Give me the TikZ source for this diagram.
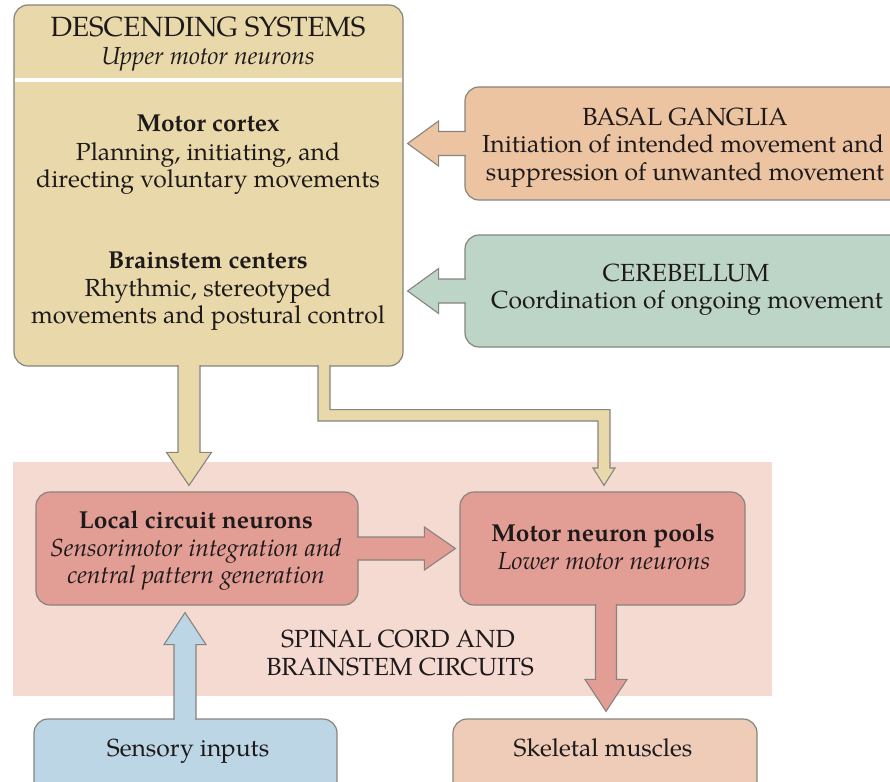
\documentclass[tikz,border=0pt]{standalone}
\usepackage{fontspec}
\setmainfont{TeX Gyre Pagella}
\usetikzlibrary{calc}
\definecolor{desccol}{HTML}{E9D9AA}
\definecolor{basalcol}{HTML}{EDC4A1}
\definecolor{cerebcol}{HTML}{BDD5C6}
\definecolor{spinalcol}{HTML}{F5DAD2}
\definecolor{neurcol}{HTML}{E29D94}
\definecolor{senscol}{HTML}{BCD6E5}
\definecolor{skelcol}{HTML}{EECCB8}
\definecolor{edgecol}{HTML}{86847E}
\definecolor{inkcol}{HTML}{1E1A1B}
\newcommand{\fatarrow}[6]{%
  \coordinate (fabase) at ($(#2)!#5!(#1)$);
  \filldraw[#6] ($(#1)!#3!90:(#2)$) -- ($(fabase)!#3!90:(#2)$) -- ($(fabase)!#4!90:(#2)$)
    -- (#2) -- ($(fabase)!#4!-90:(#2)$) -- ($(fabase)!#3!-90:(#2)$) -- ($(#1)!#3!-90:(#2)$);}
\tikzset{
  box/.style={draw=edgecol, line width=1.2pt, rounded corners=14pt, inner sep=0pt},
  txt/.style={anchor=base, inner sep=0pt, text=inkcol, font=\fontsize{24.7}{30}\selectfont},
  txth/.style={txt, font=\fontsize{27.8}{30}\selectfont},
  txtb/.style={txt, font=\fontsize{24.5}{30}\selectfont\bfseries},
  txti/.style={txt, font=\fontsize{24.7}{30}\selectfont\itshape},
  txtc/.style={txt, font=\fontsize{24.8}{30}\selectfont},
  fat/.style={draw=edgecol, line width=1.1pt, line join=miter}
}
\begin{document}
\begin{tikzpicture}[x=1pt,y=-1pt]
\useasboundingbox (0,0) rectangle (890,781);
% background region
\node[fill=spinalcol, minimum width=759pt, minimum height=234pt, inner sep=0pt] (spinal) at (392.5,579) {};
% boxes
\node[box, fill=desccol, minimum width=389pt, minimum height=361pt] (desc) at (208.5,185.5) {};
\draw[white, line width=4pt] (15,80) -- (402,80);
\node[box, fill=basalcol, minimum width=440pt, minimum height=113pt] (basal) at (685,143.5) {};
\node[box, fill=cerebcol, minimum width=440pt, minimum height=112pt] (cereb) at (685,291) {};
\node[box, fill=neurcol, minimum width=322pt, minimum height=113pt] (local) at (197,548.5) {};
\node[box, fill=neurcol, minimum width=285pt, minimum height=113pt] (pools) at (602.5,548.5) {};
\node[box, fill=senscol, minimum width=303pt, minimum height=81pt] (sensory) at (185.5,759.5) {};
\node[box, fill=skelcol, minimum width=304pt, minimum height=81pt] (skeletal) at (605,759.5) {};
% arrow end points
\coordinate (a1s) at ($(basal.west)+(1.5,0)$);
\coordinate (a1t) at ($(desc.east |- basal.west)+(4,0)$);
\coordinate (a2s) at ($(cereb.west)+(1.5,0)$);
\coordinate (a2t) at ($(desc.east |- cereb.west)+(4,0)$);
\coordinate (a3s) at ($(189,0 |- desc.south)+(0,-1.5)$);
\coordinate (a3t) at ($(189,0 |- local.north)+(0,-6)$);
\coordinate (a4s) at ($(local.east)+(-1.5,0)$);
\coordinate (a4t) at ($(pools.west)+(-4,0)$);
\coordinate (a5s) at ($(185,0 |- sensory.north)+(0,1.5)$);
\coordinate (a5t) at ($(185,0 |- local.south)+(0,7)$);
\coordinate (a6s) at ($(606,0 |- pools.south)+(0,-1.5)$);
\coordinate (a6t) at ($(606,0 |- skeletal.north)+(0,-7)$);
% arrows
\fatarrow{a1s}{a1t}{12pt}{22.5pt}{31pt}{fat, fill=basalcol}
\fatarrow{a2s}{a2t}{12pt}{22.5pt}{31pt}{fat, fill=cerebcol}
\fatarrow{a3s}{a3t}{11pt}{22.5pt}{33pt}{fat, fill=desccol}
\fatarrow{a4s}{a4t}{11.5pt}{21.5pt}{31pt}{fat, fill=neurcol}
\fatarrow{a5s}{a5t}{11pt}{21pt}{32pt}{fat, fill=senscol}
\fatarrow{a6s}{a6t}{10.5pt}{21pt}{32pt}{fat, fill=neurcol}
\coordinate (bs) at (324,0 |- desc.south);
\coordinate (bt) at ($(604,0 |- pools.north)+(0,-6)$);
\filldraw[fat, fill=desccol] ($(bs)+(-6,-1.5)$) |- (598,421) -- (598,468) -- (593,468) -- (bt)
  -- (615,468) -- (610,468) |- ($(bs)+(6,43)$) -- ($(bs)+(6,-1.5)$);
% texts
\node[txth] (t1) at (208,36.5) {DESCENDING SYSTEMS};
\node[txti] (t2) at (208,65) {Upper motor neurons};
\node[txtb] (t3) at (208,131.5) {Motor cortex};
\node[txt] (t4) at (208,160.5) {Planning, initiating, and};
\node[txt] (t5) at (208,187) {directing voluntary movements};
\node[txtb] (t6) at (208,268) {Brainstem centers};
\node[txt] (t7) at (208,296.5) {Rhythmic, stereotyped};
\node[txt] (t8) at (208,323) {movements and postural control};
\node[txtc] (t9) at (685,125) {BASAL GANGLIA};
\node[txt] (t10) at (683,152.5) {Initiation of intended movement and};
\node[txt] (t11) at (685,180) {suppression of unwanted movement};
\node[txtc] (t12) at (686,281.5) {CEREBELLUM};
\node[txt] (t13) at (687,308) {Coordination of ongoing movement};
\node[txtb] (t14) at (196,528) {Local circuit neurons};
\node[txti] (t15) at (196,556) {Sensorimotor integration and};
\node[txti] (t16) at (196,583) {central pattern generation};
\node[txtb] (t17) at (603,541.5) {Motor neuron pools};
\node[txti] (t18) at (604,569) {Lower motor neurons};
\node[txtc] (t19) at (398,647) {SPINAL CORD AND};
\node[txtc] (t20) at (400,675) {BRAINSTEM CIRCUITS};
\node[txt] (t21) at (188,756.5) {Sensory inputs};
\node[txt] (t22) at (603,756.5) {Skeletal muscles};
\end{tikzpicture}
\end{document}
